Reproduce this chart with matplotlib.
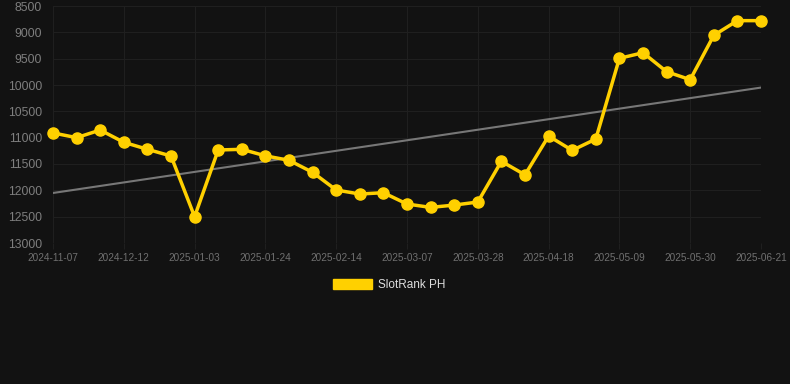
import numpy as np
import matplotlib
matplotlib.use("Agg")
import matplotlib.pyplot as plt
from matplotlib.patches import Patch

# Rank values (lower is better, axis inverted)
rank = [10910, 11000, 10855, 11088, 11221, 11348, 12500, 11234, 11221, 11345,
        11430, 11658, 11994, 12070, 12045, 12260, 12324, 12280, 12222, 11449,
        11706, 10969, 11241, 11026, 9494, 9387, 9747, 9899, 9057, 8778, 8778]
tick_labels = ["2024-11-07", "2024-12-12", "2025-01-03", "2025-01-24", "2025-02-14",
               "2025-03-07", "2025-03-28", "2025-04-18", "2025-05-09", "2025-05-30",
               "2025-06-21"]
y_ticks = [8500, 9000, 9500, 10000, 10500, 11000, 11500, 12000, 12500, 13000]
series_name = "SlotRank PH"

bg = "#121212"
gold = "#FFD000"
grid_c = "#1f1f1f"

plt.rcParams['font.family'] = ['Liberation Sans', 'DejaVu Sans']

fig = plt.figure(figsize=(7.9, 3.84), dpi=100, facecolor=bg)
ax = fig.add_axes([53/790, 1 - 243/384, (761 - 53)/790, (243 - 6)/384])
ax.set_facecolor(bg)

x = np.arange(len(rank))

# trend line (linear fit)
k, b = np.polyfit(x, rank, 1)
ax.plot(x, k * x + b, color="#777777", lw=1.5, zorder=2)

ax.plot(x, rank, color=gold, lw=2.5, marker="o", ms=8, zorder=3, clip_on=False)

ax.set_xlim(0, len(rank) - 1)
ax.set_ylim(13000, 8500)
ax.set_yticks(y_ticks)
ax.set_yticklabels([str(v) for v in y_ticks], color="#7e7e7e", fontsize=8.7)
ax.set_xticks(range(0, len(rank), 3))
ax.set_xticklabels(tick_labels, color="#707070", fontsize=7.2)

ax.grid(True, color=grid_c, lw=0.8)
ax.tick_params(axis="y", length=0, pad=7.8)
ax.tick_params(axis="x", length=4, color=grid_c, pad=3)
for s in ax.spines.values():
    s.set_visible(False)

leg = fig.legend(handles=[Patch(facecolor=gold, edgecolor=gold)], labels=[series_name],
                 loc="center", bbox_to_anchor=(389/790, 1 - 285/384), frameon=False,
                 handlelength=3.3, handleheight=0.9, handletextpad=0.5, fontsize=8.5)
for t in leg.get_texts():
    t.set_color("#dddddd")

fig.savefig("out.png", dpi=100, facecolor=bg)
